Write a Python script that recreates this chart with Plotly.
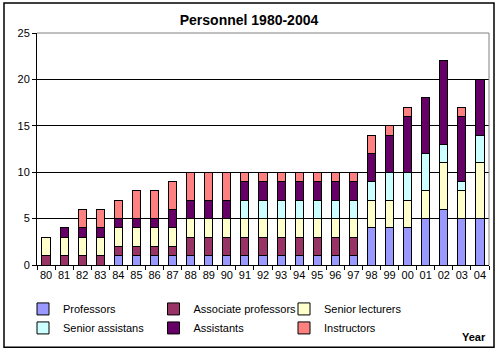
import plotly.graph_objects as go

years = ["80","81","82","83","84","85","86","87","88","89","90","91","92","93","94","95","96","97","98","99","00","01","02","03","04"]
professors =      [0,0,0,0,1,1,1,1,1,1,1,1,1,1,1,1,1,1,4,4,4,5,6,5,5]
assoc_prof =      [1,1,1,1,1,1,1,1,2,2,2,2,2,2,2,2,2,2,0,0,0,0,0,0,0]
senior_lect =     [2,2,2,2,2,2,2,2,2,2,2,2,2,2,2,2,2,2,3,3,3,3,5,3,6]
senior_assist =   [0,0,0,0,0,0,0,0,0,0,0,2,2,2,2,2,2,2,2,3,3,4,2,1,3]
assistants =      [0,1,1,1,1,1,1,2,2,2,2,2,2,2,2,2,2,2,3,4,6,6,9,7,6]
instructors =     [0,0,2,2,2,3,3,3,3,3,3,1,1,1,1,1,1,1,2,1,1,0,0,1,0]

series = [
    ("Professors", professors, "#9999FF"),
    ("Associate professors", assoc_prof, "#993366"),
    ("Senior lecturers", senior_lect, "#FFFFCC"),
    ("Senior assistans", senior_assist, "#CCFFFF"),
    ("Assistants", assistants, "#660066"),
    ("Instructors", instructors, "#FF8080"),
]

font = "Liberation Sans, Arial, sans-serif"
fig = go.Figure()
for name, vals, col in series:
    fig.add_trace(go.Bar(x=years, y=vals, name=name,
                         marker=dict(color=col, line=dict(color="black", width=1))))

L, R, T, B = 37, 11, 33, 86.5
pw, ph = 500 - L - R, 352 - T - B
def px(x): return (x - L) / pw
def py(y): return (352 - B - y) / ph

fig.update_layout(
    width=500, height=352,
    barmode="stack", bargap=0.55,
    margin=dict(l=L, r=R, t=T, b=B, autoexpand=False),
    paper_bgcolor="white", plot_bgcolor="white",
    font=dict(family=font, size=11, color="black"),
    title=dict(text="<b>Personnel 1980-2004</b>", x=249/500, xanchor="center",
               y=1 - 20/352, yanchor="middle", font=dict(size=14)),
    showlegend=True,
    legend=dict(orientation="h", x=px(23), xanchor="left", y=py(295), yanchor="top",
                entrywidth=85.5, entrywidthmode="pixels", itemwidth=30,
                font=dict(size=11), traceorder="normal", tracegroupgap=0,
                bgcolor="rgba(0,0,0,0)"),
    xaxis=dict(showline=True, linecolor="black", linewidth=1, ticks="outside",
               tickson="boundaries", ticklen=4, tickcolor="black", tickangle=0,
               showgrid=False, mirror=False, tickfont=dict(size=11)),
    yaxis=dict(range=[0, 25], dtick=5, showline=True, linecolor="black", linewidth=1,
               ticks="outside", ticklen=4, tickcolor="black", showgrid=True,
               gridcolor="black", gridwidth=1, zeroline=False, tickfont=dict(size=11)),
    shapes=[
        dict(type="rect", xref="paper", yref="paper", x0=px(4), x1=px(494), y0=py(348), y1=py(3),
             line=dict(color="black", width=1.5), layer="below"),
        dict(type="line", xref="paper", yref="paper", x0=0, x1=1, y0=1, y1=1,
             line=dict(color="gray", width=1)),
        dict(type="line", xref="paper", yref="paper", x0=1, x1=1, y0=0, y1=1,
             line=dict(color="gray", width=1)),
    ],
    annotations=[
        dict(text="<b>Year</b>", xref="paper", yref="paper", x=px(488), y=py(338),
             xanchor="right", yanchor="middle", showarrow=False, font=dict(size=11)),
    ],
)

fig.write_html("out.html")
